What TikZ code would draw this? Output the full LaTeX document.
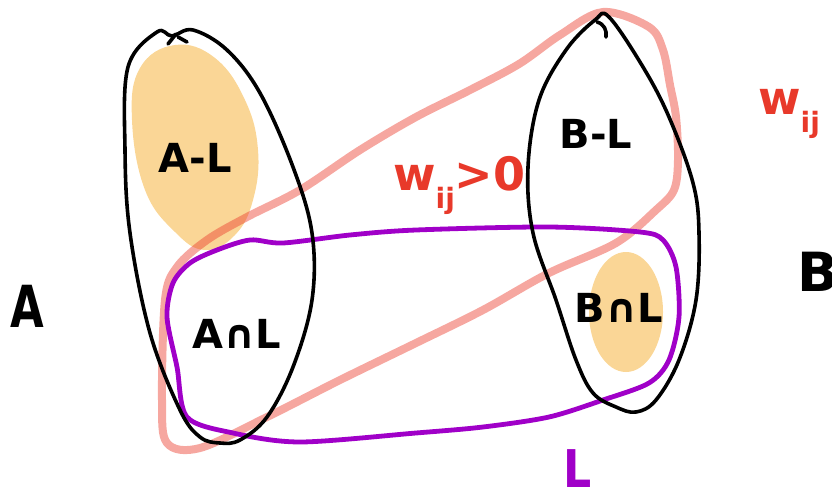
\documentclass[tikz,border=0pt]{standalone}
\usepackage{fontspec}
\setmainfont{DejaVu Sans}
\definecolor{blob}{RGB}{250,214,150}
\definecolor{wred}{RGB}{232,57,42}
\definecolor{band}{RGB}{235,60,45}
\definecolor{lpurple}{RGB}{160,0,200}
\tikzset{
  setline/.style={draw=black,line width=3.6pt,line cap=round,line join=round},
  bandline/.style={draw=band,draw opacity=0.45,line width=8pt,line join=round},
  lline/.style={draw=lpurple,line width=4.8pt,line join=round},
  blobfill/.style={fill=blob,draw=none},
  lab/.style={inner sep=0pt,text=black,font=\fontsize{40}{40}\selectfont\bfseries},
  wlab/.style={inner sep=0pt,text=wred,font=\fontsize{46}{46}\selectfont\bfseries},
}
\newcommand{\subij}{\raisebox{-0.4em}{\fontsize{28}{28}\selectfont\bfseries ij}}
\begin{document}
\begin{tikzpicture}[x=1pt,y=-1pt]
\useasboundingbox (0,0) rectangle (832,495);
\clip (0,0) rectangle (832,495);
% orange blobs
\fill[blobfill] plot[smooth cycle,tension=0.7] coordinates {(175,45) (215,58) (245,100) (258,150) (253,200) (235,235) (205,250) (175,232) (145,190) (132,120) (140,68)};
\fill[blobfill] (626,312) ellipse [x radius=37, y radius=60];
% pink band  w_ij>0
\draw[bandline] plot[smooth cycle,tension=0.55] coordinates {(416,117) (470,90) (519,64) (560,35) (603,12) (649,27) (663,50) (670,85) (676,117) (678,160) (674,190) (656,210) (616,243) (549,273) (483,310) (416,343) (340,380) (267,417) (200,448) (167,443) (162,400) (165,300) (177,267) (207,240) (247,217) (300,190) (360,150)};
% purple L
\draw[lline] plot[smooth cycle,tension=0.5] coordinates {(416,230) (549,227) (640,232) (663,240) (676,267) (679,317) (669,360) (649,383) (603,400) (549,417) (483,427) (416,433) (300,442) (233,433) (187,417) (177,367) (167,317) (173,283) (190,263) (217,250) (250,240) (283,243) (350,235)};
% black set A
\draw[setline] plot[smooth cycle,tension=0.6] coordinates {(193,30) (227,50) (260,93) (293,167) (312,233) (312,300) (293,367) (267,417) (240,440) (220,443) (200,437) (180,410) (150,333) (130,233) (125,150) (128,67) (157,32) (172,36)};
\draw[setline] (168,44) -- (176,34);
\draw[setline] (178,37) -- (187,42);
% black set B
\draw[setline] plot[smooth cycle,tension=0.6] coordinates {(609,17) (643,67) (669,117) (693,183) (699,233) (696,300) (679,360) (656,400) (636,412) (616,407) (593,393) (576,360) (556,300) (533,233) (528,167) (539,100) (566,50) (595,20)};
\draw[setline] (597,22) .. controls (604,24) and (607,30) .. (606,37);
% labels
\node[lab] (AmL) at (195,158) {A-L};
\node[lab] (AcL) at (237,334) {A∩L};
\node[lab] (BmL) at (596,134) {B-L};
\node[lab] (BcL) at (619,308) {B∩L};
\node[lab,font=\fontsize{58}{58}\selectfont\bfseries,xscale=0.75] (A) at (27,306) {A};
\node[lab,font=\fontsize{54}{54}\selectfont\bfseries,anchor=west] (B) at (797,272) {B};
\node[wlab,anchor=base west] (w1) at (393,190) {w\subij>0};
\node[wlab,anchor=base west] (w2) at (758,114) {w\subij};
\node[lab,text=lpurple,font=\fontsize{52}{52}\selectfont\bfseries,xscale=0.85,anchor=base] (L) at (578,487) {L};
\end{tikzpicture}
\end{document}
